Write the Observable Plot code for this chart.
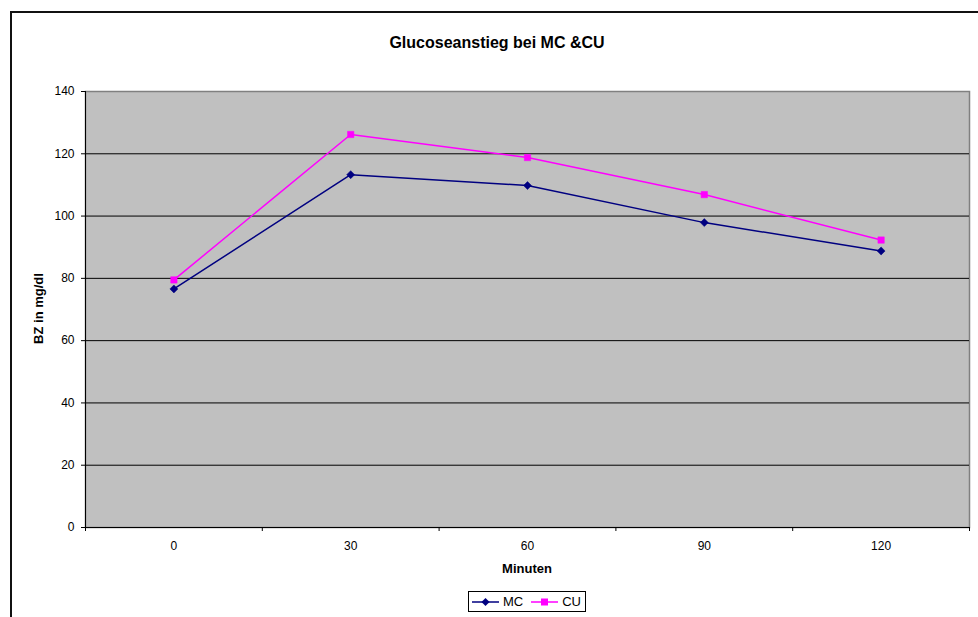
<!DOCTYPE html>
<html>
<head>
<meta charset="utf-8">
<script src="https://cdn.jsdelivr.net/npm/d3@7"></script>
<script src="https://cdn.jsdelivr.net/npm/@observablehq/plot@0.6"></script>
<style>
  body { margin: 0; background: #fff; font-family: "Liberation Sans", Arial, sans-serif; color: #000; }
  #chart { position: relative; width: 978px; height: 617px; overflow: hidden; background: #fff; }
  #chart svg.plot { position: absolute; left: 0; top: 0; }
  #frame { position: absolute; left: 10px; top: 11px; width: 1000px; height: 700px; border: 2px solid #111; box-sizing: border-box; }
  .title { position: absolute; left: 297px; width: 400px; top: 35px; text-align: center; font-weight: bold; font-size: 16px; line-height: 16px; white-space: nowrap; }
  .ylabel { position: absolute; left: -62px; width: 200px; top: 302px; text-align: center; font-weight: bold; font-size: 13px; line-height: 13px; transform: rotate(-90deg); white-space: nowrap; }
  .xlabel { position: absolute; left: 427px; width: 200px; top: 562px; text-align: center; font-weight: bold; font-size: 13px; line-height: 13px; white-space: nowrap; }
  .legend { position: absolute; left: 468px; top: 591px; width: 118px; height: 21px; border: 1px solid #000; box-sizing: border-box; background: #fff; display: flex; align-items: center; padding-left: 3px; font-size: 13px; }
  .legend .item { display: flex; align-items: center; margin-right: 8px; }
  .legend svg { display: block; margin-right: 4px; }
</style>
</head>
<body>
<div id="chart">
  <div id="frame"></div>
  <div class="title">Glucoseanstieg bei MC &amp;CU</div>
  <div class="ylabel">BZ in mg/dl</div>
  <div class="xlabel">Minuten</div>
  <div class="legend" id="legend"></div>
</div>
<script>
// Blood glucose (mg/dl) after intake, per measuring time in minutes
const minutes = [0, 30, 60, 90, 120];
const mcValues = [76.6, 113.3, 109.8, 97.9, 88.8];
const cuValues = [79.5, 126.2, 118.8, 106.9, 92.3];
const seriesNames = ["MC", "CU"];
const seriesColors = ["#000080", "#ff00ff"];
const seriesSymbols = ["diamond2", "square"];
const yTicks = [0, 20, 40, 60, 80, 100, 120, 140];

// Each category occupies an equal slot; the point sits in the slot centre
const step = minutes[1] - minutes[0];
const xDomain = [minutes[0] - step / 2, minutes[minutes.length - 1] + step / 2];
const slotEdges = [xDomain[0], ...minutes.map(m => m + step / 2)];

const rows = [
  ...minutes.map((m, i) => ({minute: m, value: mcValues[i], series: "MC"})),
  ...minutes.map((m, i) => ({minute: m, value: cuValues[i], series: "CU"}))
];

const chart = Plot.plot({
  width: 978,
  height: 617,
  marginTop: 91,
  marginRight: 9,
  marginBottom: 90,
  marginLeft: 85,
  style: {fontFamily: "Liberation Sans, Arial, sans-serif", fontSize: "12px", color: "#000", background: "transparent"},
  x: {domain: xDomain},
  y: {domain: [yTicks[0], yTicks[yTicks.length - 1]]},
  color: {domain: seriesNames, range: seriesColors},
  symbol: {domain: seriesNames, range: seriesSymbols},
  marks: [
    Plot.frame({fill: "#c0c0c0", stroke: "#808080", strokeWidth: 1.5}),
    Plot.ruleY(yTicks.slice(1, -1), {stroke: "#000", strokeWidth: 1}),
    Plot.ruleY([yTicks[0]], {stroke: "#000", strokeWidth: 1}),
    Plot.ruleX([xDomain[0]], {stroke: "#000", strokeWidth: 1}),
    Plot.axisY({ticks: yTicks, tickSize: 4, tickPadding: 7, label: null, stroke: "#000", fontSize: 12}),
    Plot.axisX({ticks: minutes, tickSize: 0, tickPadding: 14, label: null, fontSize: 12, tickFormat: d => String(d)}),
    Plot.axisX({ticks: slotEdges, tickSize: 4, tickFormat: () => "", label: null, stroke: "#000"}),
    Plot.line(rows, {x: "minute", y: "value", z: "series", stroke: "series", strokeWidth: 1.5}),
    Plot.dot(rows, {x: "minute", y: "value", symbol: "series", fill: "series", stroke: "series", strokeWidth: 0.5, r: 3.6})
  ]
});
chart.classList.add("plot");
document.getElementById("chart").insertBefore(chart, document.getElementById("frame"));

// Legend: line sample with marker, then series name
const legend = document.getElementById("legend");
seriesNames.forEach((name, i) => {
  const item = document.createElement("div");
  item.className = "item";
  const sym = d3.symbol(seriesSymbols[i] === "square" ? d3.symbolSquare : d3.symbolDiamond2, seriesSymbols[i] === "square" ? 49 : 42)();
  item.innerHTML =
    `<svg width="27" height="12"><line x1="0" x2="27" y1="6" y2="6" stroke="${seriesColors[i]}" stroke-width="1.5"/>` +
    `<path transform="translate(13.5,6)" d="${sym}" fill="${seriesColors[i]}"/></svg><span>${name}</span>`;
  legend.appendChild(item);
});
</script>
</body>
</html>
